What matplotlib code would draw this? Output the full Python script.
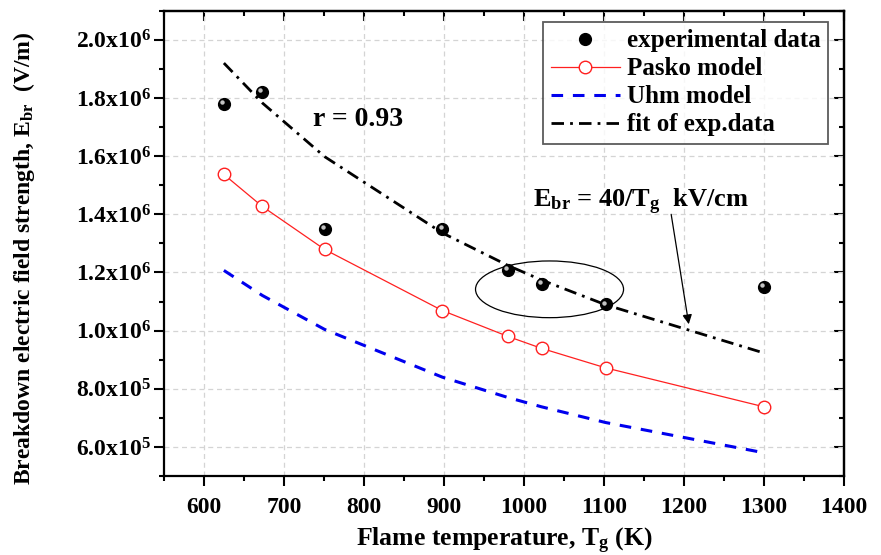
import matplotlib
matplotlib.use("Agg")
import matplotlib.pyplot as plt
import numpy as np
from matplotlib.ticker import MultipleLocator, FuncFormatter
from matplotlib.patches import Ellipse
import matplotlib.transforms as mtransforms

# ---------------- data ----------------
temp_exp = [625, 673, 751, 898, 980, 1022, 1102, 1300]
e_exp = [1.78e6, 1.82e6, 1.35e6, 1.35e6, 1.21e6, 1.16e6, 1.09e6, 1.15e6]

temp_model = [625, 673, 751, 898, 980, 1022, 1102, 1300]
e_pasko = [1.537e6, 1.427e6, 1.279e6, 1.069e6, 0.980e6, 0.939e6, 0.872e6, 0.738e6]
e_uhm = [1.207e6, 1.121e6, 1.004e6, 0.840e6, 0.770e6, 0.738e6, 0.684e6, 0.580e6]
e_fit = [1.920e6, 1.783e6, 1.598e6, 1.336e6, 1.224e6, 1.174e6, 1.089e6, 0.923e6]

labels = ["experimental data", "Pasko model", "Uhm model", "fit of exp.data"]

# ---------------- style ----------------
plt.rcParams['font.family'] = ['Liberation Serif', 'DejaVu Serif']
plt.rcParams['font.weight'] = 'bold'
plt.rcParams['mathtext.fontset'] = 'custom'
plt.rcParams['mathtext.rm'] = 'Liberation Serif:bold'
plt.rcParams['mathtext.bf'] = 'Liberation Serif:bold'
plt.rcParams['mathtext.it'] = 'Liberation Serif:bold:italic'
plt.rcParams['mathtext.default'] = 'rm'

fig = plt.figure(figsize=(8.81, 5.55), dpi=100)
ax = fig.add_axes([0.186, 0.1423, 0.772, 0.8384])

ax.grid(True, which='major', color='#d4d4d4', linestyle=(0, (4, 3)), linewidth=0.9)
ax.set_axisbelow(True)

# fit
h_fit, = ax.plot(temp_model, e_fit, color='black', lw=2.0,
                 dashes=[4.5, 2.2, 1.0, 2.2], label=labels[3], zorder=3)
# Uhm
h_uhm, = ax.plot(temp_model, e_uhm, color='#0000ee', lw=2.2, dashes=[3.8, 3.2],
                 label=labels[2], zorder=3)
# Pasko
h_pasko, = ax.plot(temp_model, e_pasko, color='#ff2020', lw=0.9, marker='o', ms=9,
                   mfc='white', mec='#ff2020', mew=1.0, label=labels[1], zorder=4)
# experimental (sphere-like markers)
h_exp, = ax.plot(temp_exp, e_exp, ls='none', marker='o', ms=8.5,
                 mfc='black', mec='black', label=labels[0], zorder=5)
off = mtransforms.offset_copy(ax.transData, fig=fig, x=-1.3, y=1.3, units='points')
ax.plot(temp_exp, e_exp, ls='none', marker='o', ms=3.2, mfc='#d8d8d8',
        mec='none', alpha=0.9, transform=off, zorder=6)

ax.set_xlim(550, 1400)
ax.set_ylim(5.0e5, 2.1e6)
ax.xaxis.set_major_locator(MultipleLocator(100))
ax.xaxis.set_minor_locator(MultipleLocator(50))
ax.yaxis.set_major_locator(MultipleLocator(2e5))
ax.yaxis.set_minor_locator(MultipleLocator(1e5))


def yfmt(v, pos):
    if v <= 0:
        return ''
    e = int(np.floor(np.log10(v) + 1e-9))
    m = v / 10 ** e
    return r'$%.1f\mathrm{x}10^{%d}$' % (m, e)


ax.yaxis.set_major_formatter(FuncFormatter(yfmt))

for s in ax.spines.values():
    s.set_linewidth(1.6)

ax.tick_params(axis='both', which='major', labelsize=17, width=1.5, length=7, pad=4)
ax.tick_params(axis='both', which='minor', width=1.5, length=3.8)
ax.tick_params(axis='x', which='both', direction='out', top=False)
ax.tick_params(axis='y', which='both', direction='out', right=False)
ax.tick_params(axis='x', which='major', pad=8)
ax.tick_params(axis='y', which='major', pad=2)

# inward ticks on top / right via secondary axes
secx = ax.secondary_xaxis('top')
secx.xaxis.set_major_locator(MultipleLocator(100))
secx.xaxis.set_minor_locator(MultipleLocator(50))
secx.tick_params(which='major', direction='in', length=7, width=1.5, labeltop=False)
secx.tick_params(which='minor', direction='in', length=3.8, width=1.5)
secx.spines['top'].set_linewidth(1.6)
secy = ax.secondary_yaxis('right')
secy.yaxis.set_major_locator(MultipleLocator(2e5))
secy.yaxis.set_minor_locator(MultipleLocator(1e5))
secy.tick_params(which='major', direction='in', length=7, width=1.5, labelright=False)
secy.tick_params(which='minor', direction='in', length=3.8, width=1.5)
secy.spines['right'].set_linewidth(1.6)

ax.set_xlabel(r'Flame temperature, T$_\mathrm{g}$ (K)', fontsize=18.5, fontweight='bold',
              va='center')
ax.xaxis.set_label_coords(0.5, -0.14)
ax.set_ylabel(r'Breakdown electric field strength, E$_\mathrm{br}$  (V/m)', fontsize=17,
              fontweight='bold', va='center')
ax.yaxis.set_label_coords(-0.206, 0.468)

# annotations
ax.text(736, 1.703e6, 'r = 0.93', fontsize=20, fontweight='bold', ha='left', va='baseline')
ax.text(1011, 1.425e6, r'E$_\mathrm{br}$ = 40/T$_\mathrm{g}$  kV/cm', fontsize=19,
        fontweight='bold', ha='left', va='baseline')
ax.annotate('', xy=(1206, 1.022e6), xytext=(1184, 1.40e6),
            arrowprops=dict(arrowstyle='-|>', color='black', lw=0.9, mutation_scale=14,
                            shrinkA=0, shrinkB=0))
ax.add_patch(Ellipse((1032, 1.142e6), width=185, height=0.195e6, fill=False,
                     edgecolor='black', lw=0.9, zorder=4))

leg = ax.legend(handles=[h_exp, h_pasko, h_uhm, h_fit],
                loc='upper right', bbox_to_anchor=(0.977, 0.976), borderaxespad=0,
                frameon=True, fancybox=False, edgecolor='#333333',
                handlelength=2.75, handletextpad=0.3, labelspacing=0.2,
                borderpad=0.3, prop={'weight': 'bold', 'size': 18})
leg.get_frame().set_linewidth(1.3)

fig.savefig('out.png', dpi=100)
